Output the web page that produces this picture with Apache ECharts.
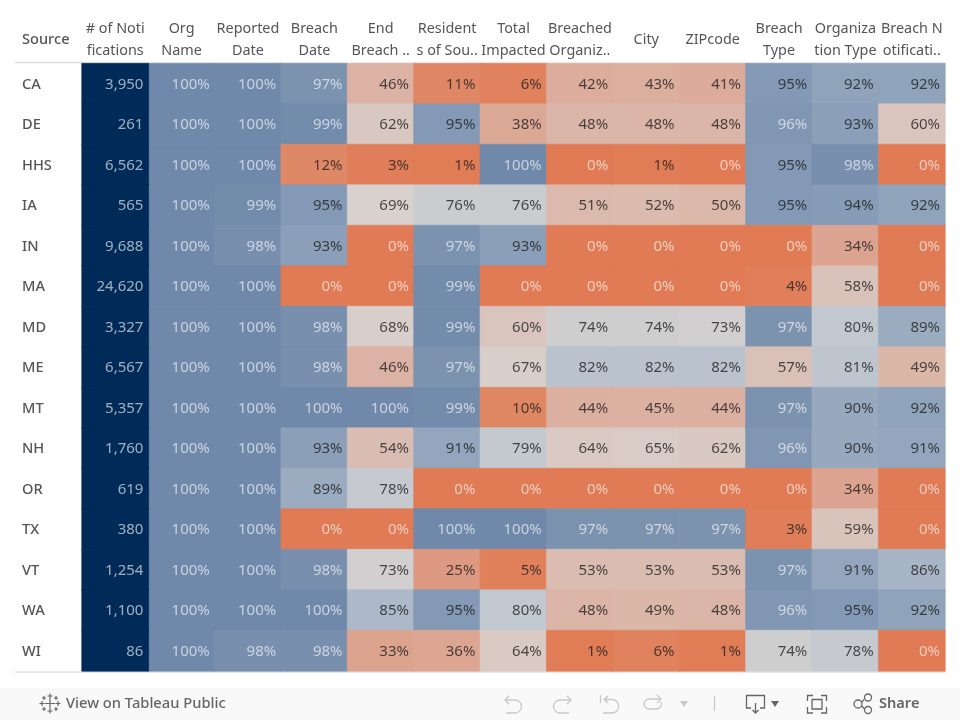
<!DOCTYPE html>
<html>
<head>
<meta charset="utf-8">
<style>html,body{margin:0;padding:0;background:#fff}#c{width:960px;height:720px}</style>
<script src="https://cdn.jsdelivr.net/npm/echarts@6/dist/echarts.min.js"></script>
</head>
<body>
<div id="c"></div>
<script>
const sources = ['CA','DE','HHS','IA','IN','MA','MD','ME','MT','NH','OR','TX','VT','WA','WI'];
const columns = ['# of Noti\nfications','Org\nName','Reported\nDate','Breach\nDate','End\nBreach ..','Resident\ns of Sou..','Total\nImpacted','Breached\nOrganiz..','City','ZIPcode','Breach\nType','Organiza\ntion Type','Breach N\notificati..'];
const notifications = [3950,261,6562,565,9688,24620,3327,6567,5357,1760,619,380,1254,1100,86];
const orgName      = [100,100,100,100,100,100,100,100,100,100,100,100,100,100,100];
const reportedDate = [100,100,100,99,98,100,100,100,100,100,100,100,100,100,98];
const breachDate   = [97,99,12,95,93,0,98,98,100,93,89,0,98,100,98];
const endBreach    = [46,62,3,69,0,0,68,46,100,54,78,0,73,85,33];
const residents    = [11,95,1,76,97,99,99,97,99,91,0,100,25,95,36];
const totalImpacted= [6,38,100,76,93,0,60,67,10,79,0,100,5,80,64];
const breachedOrg  = [42,48,0,51,0,0,74,82,44,64,0,97,53,48,1];
const city         = [43,48,1,52,0,0,74,82,45,65,0,97,53,49,6];
const zipcode      = [41,48,0,50,0,0,73,82,44,62,0,97,53,48,1];
const breachType   = [95,96,95,95,0,4,97,57,97,96,0,3,97,96,74];
const orgType      = [92,93,98,94,34,58,80,81,90,90,34,59,91,95,78];
const breachNotif  = [92,60,0,92,0,0,89,49,92,91,0,0,86,92,0];
const pctColumns = [orgName,reportedDate,breachDate,endBreach,residents,totalImpacted,breachedOrg,city,zipcode,breachType,orgType,breachNotif];
const colorStops = ['#e07b55','#df8662','#dd9278','#dca08a','#dcaa99','#dbb8aa','#d9c5bd','#d8d2cf','#c2c8d0','#97a9bf','#7089aa'];

const LIGHT = 'rgba(255,255,255,0.62)', DARK = 'rgba(30,30,30,0.78)';
const FONT = '"Noto Sans"';
const pctData = [];
pctColumns.forEach((col, c) => col.forEach((v, r) => {
  const fill = echarts.color.lerp(v / 100, colorStops);
  pctData.push({value:[c + 1, r, v], itemStyle:{color:fill, borderColor:fill, borderWidth:0.6},
    label:{color:(v === 0 || v >= 96) ? LIGHT : DARK}});
}));
const numData = notifications.map((v, r) => [0, r, v]);

const grey = '#c9c9c9', ink = '#666666';
let iconCount = 0;
const icon = (d, stroke, w, fill) => {
  const name = 'toolbarIcon' + (iconCount++);
  echarts.graphic.registerShape(name, echarts.graphic.extendPath(d, {}));
  return {type:name, silent:true, shape:{}, style:{stroke:stroke, lineWidth:w || 1.3, fill:fill || 'none'}};
};
let logo = '';
[[50,703.5,5],[50,696,2.5],[50,711,2.5],[42,703.5,2.5],[58,703.5,2.5],[44,698,2],[56,698,2],[44,709,2],[56,709,2]].forEach(p => {
  logo += `M${p[0]-p[2]} ${p[1]}H${p[0]+p[2]}M${p[0]} ${p[1]-p[2]}V${p[1]+p[2]}`;
});

const chart = echarts.init(document.getElementById('c'), null, {renderer:'canvas'});
chart.setOption({
  animation:false,
  backgroundColor:'#fff',
  textStyle:{fontFamily:FONT},
  grid:{left:82, right:15, top:63.5, bottom:49, containLabel:false},
  xAxis:{type:'category', position:'top', data:columns, axisTick:{show:false}, axisLine:{show:false}, splitLine:{show:false},
    axisLabel:{interval:0, color:'#555', fontFamily:FONT, fontSize:14.4, lineHeight:22, margin:24, verticalAlign:'middle', align:'center'}},
  yAxis:{type:'category', inverse:true, data:sources, axisTick:{show:false}, axisLine:{show:false}, splitLine:{show:false},
    axisLabel:{interval:0, color:'#555', fontFamily:FONT, fontSize:14.6, fontWeight:500, align:'left', margin:60, verticalAlign:'top', lineHeight:2}},
  series:[
    {type:'heatmap', data:pctData,
     label:{show:true, position:'insideRight', distance:5.5, offset:[0,0.5], fontFamily:FONT, fontSize:15, formatter:p => p.value[2] + '%'}},
    {type:'heatmap', data:numData, itemStyle:{color:'#002a57', borderColor:'#002a57', borderWidth:0.6},
     label:{show:true, position:'insideRight', distance:5.5, offset:[0,0.5], fontFamily:FONT, fontSize:15, color:'rgba(255,255,255,0.62)', formatter:p => p.value[2].toLocaleString('en-US')}}
  ],
  graphic:[
    {type:'text', silent:true, style:{text:'Source', x:22, y:40, fill:'#555', font:'500 14.6px '+FONT, textVerticalAlign:'middle'}},
    {type:'line', silent:true, shape:{x1:15,y1:62.5,x2:82,y2:62.5}, style:{stroke:'#dcdcdc', lineWidth:1.5}},
    {type:'line', silent:true, shape:{x1:82,y1:63,x2:945,y2:63}, style:{stroke:'#e6e6e6', lineWidth:1}},
    {type:'line', silent:true, shape:{x1:15,y1:672,x2:945,y2:672}, style:{stroke:'#d4d4d4', lineWidth:1}},
    {type:'rect', silent:true, z:-1, shape:{x:0,y:688,width:960,height:32}, style:{fill:'#f9f9f9'}},
    icon(logo, ink, 1.2),
    {type:'text', silent:true, style:{text:'View on Tableau Public', x:66, y:704, fill:ink, font:'500 14.7px '+FONT, textVerticalAlign:'middle'}},
    icon('M509 696L505 700L509 704M505 700H515A6.5 6.5 0 0 1 515 713H506', grey),
    icon('M567 696L571 700L567 704M571 700H560A6.5 6.5 0 0 0 560 713H569', grey),
    icon('M600.5 695V703M608 696L604 699.5L608 703M604 699.5H612A6.7 6.7 0 0 1 612 713H603', grey),
    icon('M657 695L661 699L657 703M660 699H649A5 5 0 0 0 649 709H657A5 5 0 0 0 661 702', grey),
    icon('M680 701H688L684 707Z', 'none', 0, grey),
    icon('M714.5 696V711', grey),
    icon('M751 708H746.5V695.5H764.5V708H760M755.5 703V712.5M752.5 710L755.5 713L758.5 710', ink),
    icon('M771 701H779L775 707Z', 'none', 0, ink),
    icon('M807.5 701V695.5H813M821 695.5H826.5V701M826.5 707V713H821M813 713H807.5V707M812 699.5H822V709H812Z', ink),
    icon('M861.7 702.3L864 699.5M861.7 706L864 708.5M862 704A4 4 0 1 1 854 704A4 4 0 1 1 862 704ZM871.5 697.5A3.5 3.5 0 1 1 864.5 697.5A3.5 3.5 0 1 1 871.5 697.5ZM871.5 710A3.5 3.5 0 1 1 864.5 710A3.5 3.5 0 1 1 871.5 710Z', ink),
    {type:'text', silent:true, style:{text:'Share', x:879, y:704, fill:ink, font:'600 14.6px '+FONT, textVerticalAlign:'middle'}}
  ]
});
</script>
</body>
</html>
